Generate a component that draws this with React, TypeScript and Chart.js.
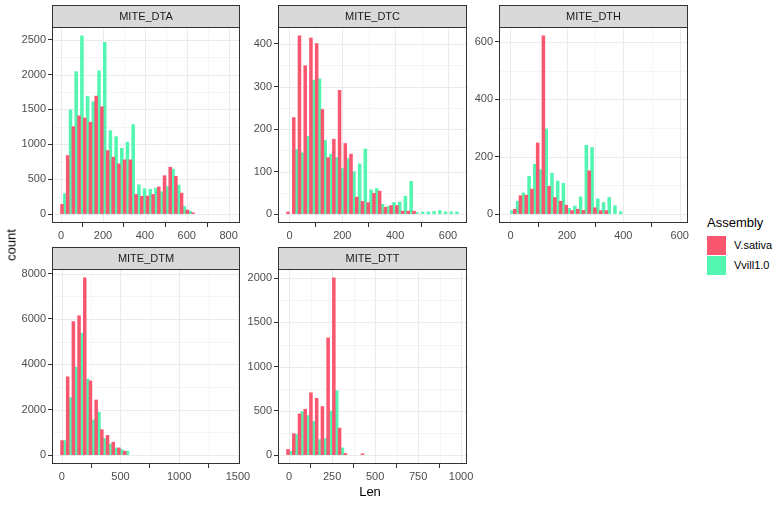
import React, { useEffect, useRef } from 'react';
import { Chart, registerables } from 'chart.js';

Chart.register(...registerables);

// ---------------- data ----------------
const assemblies = ['V.sativa', 'Vvill1.0'];

// MITE_DTA (30 bins)
const dtaBinStart = 11;
const dtaBinWidth = 27.2;
const dtaSativa = [140, 839, 1253, 1408, 1377, 1317, 1690, 1538, 910, 815, 720, 777, 777, 282, 254, 258, 282, 390, 550, 672, 543, 300, 59, 20, 0, 0, 0, 0, 0, 0];
const dtaVvill = [292, 1493, 2040, 2553, 1685, 1609, 2051, 2460, 1195, 1110, 943, 1030, 1281, 420, 364, 355, 372, 320, 395, 643, 414, 107, 40, 0, 0, 0, 0, 0, 0, 0];
const dtaXTicks = [0, 200, 400, 600, 800];
const dtaYTicks = [0, 500, 1000, 1500, 2000, 2500];

// MITE_DTC (30 bins)
const dtcBinStart = 0;
const dtcBinWidth = 21.67;
const dtcSativa = [5, 227, 419, 349, 414, 401, 246, 133, 176, 291, 166, 141, 40, 30, 27, 49, 54, 16, 20, 20, 7, 7, 7, 0, 0, 0, 0, 0, 0, 0];
const dtcVvill = [0, 152, 144, 183, 315, 318, 173, 141, 133, 107, 130, 100, 118, 153, 57, 60, 23, 18, 27, 28, 42, 77, 4, 5, 5, 6, 8, 5, 5, 5];
const dtcXTicks = [0, 200, 400, 600];
const dtcYTicks = [0, 100, 200, 300, 400];

// MITE_DTH (30 bins)
const dthBinStart = 0;
const dthBinWidth = 20.3;
const dthSativa = [0, 17, 64, 66, 87, 248, 621, 97, 58, 45, 31, 12, 17, 13, 151, 22, 12, 12, 0, 0, 0, 0, 0, 0, 0, 0, 0, 0, 0, 0];
const dthVvill = [12, 45, 74, 132, 174, 155, 297, 142, 115, 107, 20, 28, 60, 240, 232, 53, 40, 58, 29, 8, 0, 0, 0, 0, 0, 0, 0, 0, 0, 0];
const dthXTicks = [0, 200, 400, 600];
const dthYTicks = [0, 200, 400, 600];

// MITE_DTM (30 bins)
const dtmBinStart = 14;
const dtmBinWidth = 48.5;
const dtmSativa = [640, 3450, 5880, 6140, 7810, 3270, 2430, 1120, 870, 570, 320, 175, 0, 0, 0, 0, 0, 0, 0, 0, 0, 0, 0, 0, 0, 0, 0, 0, 0, 0];
const dtmVvill = [640, 2530, 3880, 5370, 3350, 1550, 1890, 730, 490, 320, 250, 175, 0, 0, 0, 0, 0, 0, 0, 0, 0, 0, 0, 0, 0, 0, 0, 0, 0, 0];
const dtmXTicks = [0, 500, 1000, 1500];
const dtmYTicks = [0, 2000, 4000, 6000, 8000];

// MITE_DTT (30 bins)
const dttBinStart = 2;
const dttBinWidth = 33.3;
const dttSativa = [64, 243, 467, 519, 705, 642, 549, 1325, 2004, 306, 19, 0, 0, 15, 0, 0, 0, 0, 0, 0, 0, 0, 0, 0, 0, 0, 0, 0, 0, 0];
const dttVvill = [45, 232, 493, 448, 381, 176, 187, 500, 728, 82, 0, 0, 0, 0, 0, 0, 0, 0, 0, 0, 0, 0, 0, 0, 0, 0, 0, 0, 0, 0];
const dttXTicks = [0, 250, 500, 750, 1000];
const dttYTicks = [0, 500, 1000, 1500, 2000];

// ---------------- styles ----------------
const FONT = '"Liberation Sans", Arial, Helvetica, sans-serif';
const SATIVA_COLOR = '#F9566F';
const VVILL_COLOR = '#52F6B1';
const STRIP_H = 22;
const Y_AXIS_W = 50;
const X_AXIS_H = 24;
const RIGHT_PAD = 18;

type PanelSpec = {
  title: string;
  binStart: number;
  binWidth: number;
  sativa: number[];
  vvill: number[];
  xTicks: number[];
  yTicks: number[];
  box: { left: number; top: number; w: number; h: number };
};

const panels: PanelSpec[] = [
  { title: 'MITE_DTA', binStart: dtaBinStart, binWidth: dtaBinWidth, sativa: dtaSativa, vvill: dtaVvill, xTicks: dtaXTicks, yTicks: dtaYTicks, box: { left: 52, top: 5, w: 188, h: 196 } },
  { title: 'MITE_DTC', binStart: dtcBinStart, binWidth: dtcBinWidth, sativa: dtcSativa, vvill: dtcVvill, xTicks: dtcXTicks, yTicks: dtcYTicks, box: { left: 278, top: 5, w: 189, h: 196 } },
  { title: 'MITE_DTH', binStart: dthBinStart, binWidth: dthBinWidth, sativa: dthSativa, vvill: dthVvill, xTicks: dthXTicks, yTicks: dthYTicks, box: { left: 499, top: 5, w: 189, h: 196 } },
  { title: 'MITE_DTM', binStart: dtmBinStart, binWidth: dtmBinWidth, sativa: dtmSativa, vvill: dtmVvill, xTicks: dtmXTicks, yTicks: dtmYTicks, box: { left: 52, top: 247, w: 188, h: 195 } },
  { title: 'MITE_DTT', binStart: dttBinStart, binWidth: dttBinWidth, sativa: dttSativa, vvill: dttVvill, xTicks: dttXTicks, yTicks: dttYTicks, box: { left: 278, top: 247, w: 189, h: 195 } },
];

function minorOf(ticks: number[], lo: number, hi: number): number[] {
  const out: number[] = [];
  if (ticks.length < 2) return out;
  const step = ticks[1] - ticks[0];
  const first = ticks[0] - step / 2;
  for (let v = first; v <= hi; v += step) {
    if (v >= lo && !ticks.includes(v)) out.push(v);
  }
  return out;
}

const facetPlugin = {
  id: 'facet',
  beforeDatasetsDraw(chart: any, _args: any, opts: any) {
    const { ctx, chartArea: a, scales } = chart;
    const x = scales.x;
    const y = scales.y;
    ctx.save();
    ctx.beginPath();
    ctx.rect(a.left, a.top, a.right - a.left, a.bottom - a.top);
    ctx.clip();
    ctx.lineWidth = 1;
    const vline = (v: number, color: string) => {
      const px = Math.round(x.getPixelForValue(v)) + 0.5;
      ctx.strokeStyle = color;
      ctx.beginPath();
      ctx.moveTo(px, a.top);
      ctx.lineTo(px, a.bottom);
      ctx.stroke();
    };
    const hline = (v: number, color: string) => {
      const py = Math.round(y.getPixelForValue(v)) + 0.5;
      ctx.strokeStyle = color;
      ctx.beginPath();
      ctx.moveTo(a.left, py);
      ctx.lineTo(a.right, py);
      ctx.stroke();
    };
    opts.xMinor.forEach((v: number) => vline(v, '#F5F5F5'));
    opts.yMinor.forEach((v: number) => hline(v, '#F5F5F5'));
    opts.xMajor.forEach((v: number) => vline(v, '#EBEBEB'));
    opts.yMajor.forEach((v: number) => hline(v, '#EBEBEB'));
    ctx.restore();
  },
  afterDraw(chart: any, _args: any, opts: any) {
    const { ctx, chartArea: a } = chart;
    ctx.save();
    const w = a.right - a.left;
    // strip
    ctx.fillStyle = '#D9D9D9';
    ctx.fillRect(a.left, a.top - STRIP_H, w, STRIP_H);
    ctx.strokeStyle = '#333333';
    ctx.lineWidth = 1;
    ctx.strokeRect(a.left + 0.5, a.top - STRIP_H + 0.5, w - 1, STRIP_H);
    ctx.fillStyle = '#1A1A1A';
    ctx.font = `11px ${FONT}`;
    ctx.textAlign = 'center';
    ctx.textBaseline = 'middle';
    ctx.fillText(opts.title, a.left + w / 2, a.top - STRIP_H / 2 + 0.5);
    // panel border
    ctx.strokeRect(a.left + 0.5, a.top + 0.5, w - 1, a.bottom - a.top - 1);
    ctx.restore();
  },
};

function Panel({ spec }: { spec: PanelSpec }) {
  const ref = useRef<HTMLCanvasElement | null>(null);
  const cw = spec.box.w + Y_AXIS_W + RIGHT_PAD;
  const chh = STRIP_H + spec.box.h + X_AXIS_H;

  useEffect(() => {
    if (!ref.current) return;
    const n = spec.sativa.length;
    const centers = spec.sativa.map((_, i) => spec.binStart + i * spec.binWidth);
    const lo = spec.binStart - spec.binWidth / 2;
    const hi = spec.binStart + (n - 1) * spec.binWidth + spec.binWidth / 2;
    const span = hi - lo;
    const xMin = lo - 0.05 * span;
    const xMax = hi + 0.05 * span;
    const top = Math.max(...spec.sativa, ...spec.vvill);
    const yMin = -0.05 * top;
    const yMax = 1.05 * top;

    const tickFont = { family: FONT, size: 11 };
    // empty bins are drawn as nothing (null), like ggplot's zero-height bars
    const toPoints = (vals: number[]) => centers.map((c, i) => ({ x: c, y: vals[i] === 0 ? null : vals[i] }));

    const chart = new Chart(ref.current, {
      type: 'bar',
      data: {
        datasets: [
          {
            label: assemblies[0],
            data: toPoints(spec.sativa),
            backgroundColor: SATIVA_COLOR,
            borderWidth: 0,
            barPercentage: 1,
            categoryPercentage: 1,
          },
          {
            label: assemblies[1],
            data: toPoints(spec.vvill),
            backgroundColor: VVILL_COLOR,
            borderWidth: 0,
            barPercentage: 1,
            categoryPercentage: 1,
          },
        ],
      },
      options: {
        responsive: false,
        animation: false,
        layout: { padding: { left: 0, right: RIGHT_PAD, top: STRIP_H, bottom: 0 } },
        plugins: {
          legend: { display: false },
          tooltip: { enabled: false },
          facet: {
            title: spec.title,
            xMajor: spec.xTicks,
            yMajor: spec.yTicks,
            xMinor: minorOf(spec.xTicks, xMin, xMax),
            yMinor: minorOf(spec.yTicks, yMin, yMax),
          },
        } as any,
        scales: {
          x: {
            type: 'linear',
            min: xMin,
            max: xMax,
            bounds: 'data',
            offset: false,
            grid: { drawOnChartArea: false, drawTicks: true, tickLength: 4, tickColor: '#333333', tickWidth: 1 },
            border: { display: false },
            ticks: {
              font: tickFont,
              color: '#4D4D4D',
              padding: 2,
              maxRotation: 0,
              minRotation: 0,
              autoSkip: false,
              callback: (v: any) => String(v),
            },
            afterBuildTicks: (s: any) => {
              s.ticks = spec.xTicks.map((v) => ({ value: v }));
            },
            afterFit: (s: any) => {
              s.height = X_AXIS_H;
              s.paddingLeft = 0;
              s.paddingRight = 0;
            },
          },
          y: {
            type: 'linear',
            min: yMin,
            max: yMax,
            bounds: 'data',
            grid: { drawOnChartArea: false, drawTicks: true, tickLength: 4, tickColor: '#333333', tickWidth: 1 },
            border: { display: false },
            ticks: {
              font: tickFont,
              color: '#4D4D4D',
              padding: 2,
              autoSkip: false,
              callback: (v: any) => String(v),
            },
            afterBuildTicks: (s: any) => {
              s.ticks = spec.yTicks.map((v) => ({ value: v }));
            },
            afterFit: (s: any) => {
              s.width = Y_AXIS_W;
              s.paddingTop = 0;
              s.paddingBottom = 0;
            },
          },
        },
      } as any,
      plugins: [facetPlugin as any],
    });
    return () => chart.destroy();
  }, [spec]);

  return (
    <canvas
      ref={ref}
      width={cw}
      height={chh}
      style={{
        position: 'absolute',
        left: spec.box.left - Y_AXIS_W,
        top: spec.box.top,
        width: cw,
        height: chh,
      }}
    />
  );
}

export default function App() {
  return (
    <div
      style={{
        position: 'absolute',
        left: 0,
        top: 0,
        width: 778,
        height: 521,
        background: '#FFFFFF',
        overflow: 'hidden',
        fontFamily: FONT,
      }}
    >
      {panels.map((p) => (
        <Panel key={p.title} spec={p} />
      ))}
      {/* axis titles */}
      <div
        style={{
          position: 'absolute',
          left: 11,
          top: 245,
          transform: 'translate(-50%, -50%) rotate(-90deg)',
          fontSize: 13,
          color: '#000',
          whiteSpace: 'nowrap',
          lineHeight: '15px',
        }}
      >
        count
      </div>
      <div
        style={{
          position: 'absolute',
          left: 370,
          top: 491,
          transform: 'translate(-50%, -50%)',
          fontSize: 13,
          color: '#000',
          whiteSpace: 'nowrap',
          lineHeight: '15px',
        }}
      >
        Len
      </div>
      {/* legend */}
      <div style={{ position: 'absolute', left: 707, top: 215, fontSize: 13, lineHeight: '16px', color: '#000', whiteSpace: 'nowrap' }}>
        Assembly
      </div>
      <div style={{ position: 'absolute', left: 707, top: 236, width: 19, height: 19, background: SATIVA_COLOR }} />
      <div style={{ position: 'absolute', left: 707, top: 256, width: 19, height: 19, background: VVILL_COLOR }} />
      <div style={{ position: 'absolute', left: 734, top: 239, fontSize: 11, lineHeight: '13px', color: '#000', whiteSpace: 'nowrap' }}>
        {assemblies[0]}
      </div>
      <div style={{ position: 'absolute', left: 734, top: 259, fontSize: 11, lineHeight: '13px', color: '#000', whiteSpace: 'nowrap' }}>
        {assemblies[1]}
      </div>
    </div>
  );
}
